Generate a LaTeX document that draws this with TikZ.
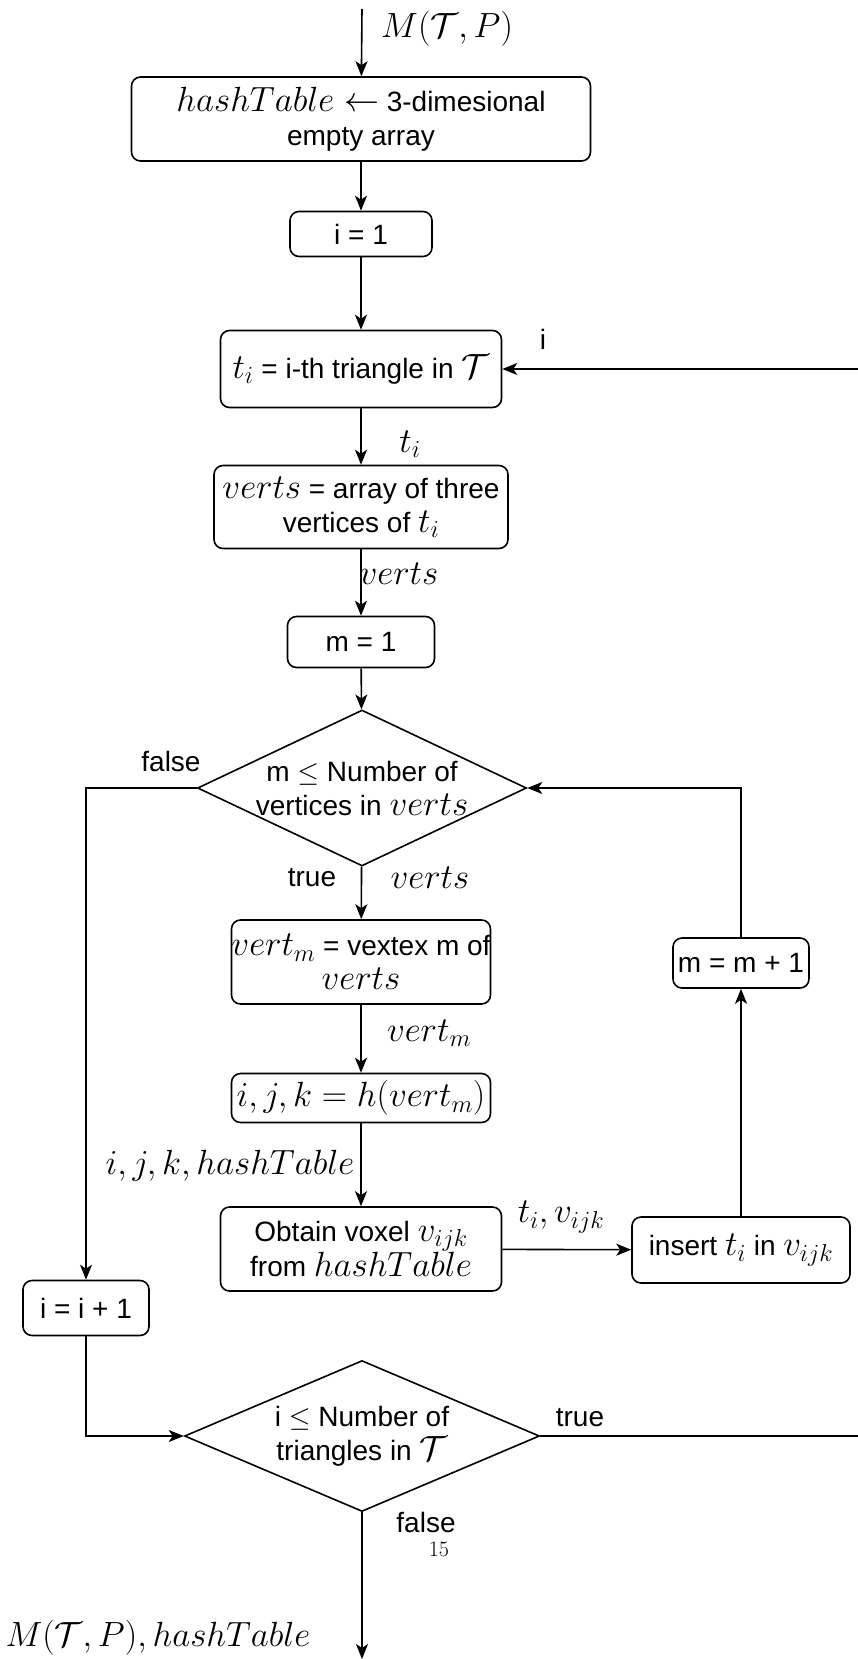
\RequirePackage{fix-cm}
\documentclass[tikz,border=0pt]{standalone}
\usepackage{fontspec}
\setmainfont{Liberation Sans}
\usepackage{amssymb}
\usepackage{amsmath}
\usetikzlibrary{shapes.geometric,arrows.meta}

% math is set a bit larger than the text, as in the drawing
\newcommand{\mj}[1]{{\fontsize{35}{34}\selectfont$#1$}}

\begin{document}
\begin{tikzpicture}[x=1pt,y=-1pt,
    font=\fontsize{28}{34}\selectfont,
    box/.style={draw, rounded corners=9pt, line width=1.6pt, align=center, inner sep=0pt},
    cond/.style={draw, diamond, line width=1.6pt, inner sep=0pt},
    flow/.style={line width=1.6pt, -{Stealth[length=15pt,width=12pt,inset=4pt]}},
    lbl/.style={inner sep=0pt, align=center}]
  \useasboundingbox (0,0) rectangle (857,1659);

  % main column
  \coordinate (start) at (362,9);
  \node[box, minimum width=459pt, minimum height=84pt] (init) at (361,119) {\mj{hashTable \leftarrow} 3-dimesional\\empty array};
  \node[box, minimum width=142pt, minimum height=45pt] (ione) at (361,234) {i = 1};
  \node[box, minimum width=281pt, minimum height=77pt] (tri) at (361,369) {\mj{t_i} = i-th triangle in \mj{\mathcal{T}}};
  \node[box, minimum width=294pt, minimum height=83pt] (verts) at (361,507) {\mj{verts} = array of three\\vertices of \mj{t_i}};
  \node[box, minimum width=147pt, minimum height=51pt] (mone) at (361,642) {m = 1};
  \node[cond, minimum width=329pt, minimum height=156pt] (mcond) at (362,788) {};
  \node[lbl] (mcondtxt) at (mcond) {m $\leq$ Number of\\vertices in \mj{verts}};
  \node[box, minimum width=259pt, minimum height=84pt] (vertm) at (361,962) {\mj{vert_m} = vextex m of\\\mj{verts}};
  \node[box, minimum width=259pt, minimum height=49pt] (hash) at (361,1098) {\mj{i,j,k=h(vert_m)}};
  \node[box, minimum width=281pt, minimum height=84pt] (voxel) at (361,1249) {Obtain voxel \mj{v_{ijk}}\\from \mj{hashTable}};
  \node[box, minimum width=218pt, minimum height=66pt] (insert) at (741,1250) {insert \mj{t_i} in \mj{v_{ijk}}};
  \node[box, minimum width=136pt, minimum height=50pt] (minc) at (741,963) {m = m + 1};
  \node[box, minimum width=126pt, minimum height=55pt] (iinc) at (86,1308) {i = i + 1};
  \node[cond, minimum width=355pt, minimum height=151pt] (icond) at (362,1436) {};
  \node[lbl] (icondtxt) at (icond) {i $\leq$ Number of\\triangles in \mj{\mathcal{T}}};
  \coordinate (loop) at (930,1436);
  \coordinate (finish) at (362,1659);

  % connectors
  \draw[flow] (start) -- (init);
  \draw[flow] (init) -- (ione);
  \draw[flow] (ione) -- (tri);
  \draw[flow] (tri) -- (verts);
  \draw[flow] (verts) -- (mone);
  \draw[flow] (mone) -- (mcond);
  \draw[flow] (mcond) -- (vertm);
  \draw[flow] (vertm) -- (hash);
  \draw[flow] (hash) -- (voxel);
  \draw[flow] (voxel) -- (insert);
  \draw[flow] (insert) -- (minc);
  \draw[flow] (minc) |- (mcond);
  \draw[flow] (mcond.west) -| (iinc);
  \draw[flow] (iinc) |- (icond.west);
  \draw[flow] (icond.east) -- (loop) |- (tri);
  \draw[flow] (icond) -- (finish);

  % labels
  \node[lbl, anchor=west] (inlbl) at (381,29) {\mj{M(\mathcal{T},P)}};
  \node[lbl] (ilbl) at (543,339) {i};
  \node[lbl] (tilbl) at (410,444) {\mj{t_i}};
  \node[lbl] (vertslbl) at (399,574) {\mj{verts}};
  \node[lbl] (mfalse) at (171,761) {false};
  \node[lbl] (mtrue) at (312,878) {true};
  \node[lbl] (vertslblb) at (430,878) {\mj{verts}};
  \node[lbl] (vertmlbl) at (429,1033) {\mj{vert_m}};
  \node[lbl] (ijklbl) at (230,1166) {\mj{i,j,k,hashTable}};
  \node[lbl] (tvlbl) at (561,1217) {\mj{t_i,v_{ijk}}};
  \node[lbl] (itrue) at (580,1418) {true};
  \node[lbl] (ifalse) at (426,1522) {false};
  \node[lbl, font=\fontsize{22}{26}\selectfont] (pagenum) at (439,1549) {$15$};
  \node[lbl] (outlbl) at (158,1638) {\mj{M(\mathcal{T},P), hashTable}};
\end{tikzpicture}
\end{document}
